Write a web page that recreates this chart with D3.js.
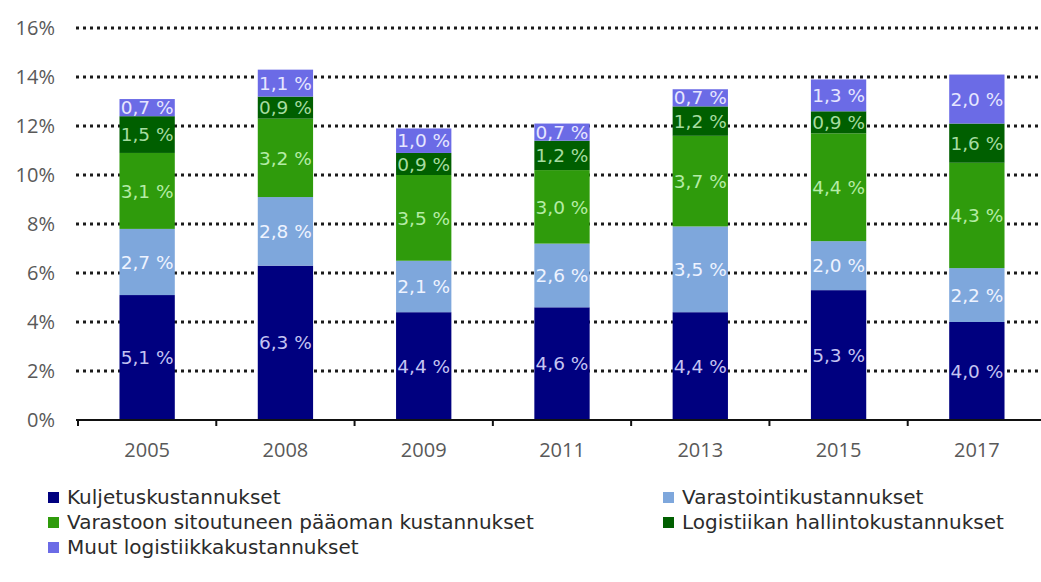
<!DOCTYPE html>
<html>
<head>
<meta charset="utf-8">
<script src="https://cdn.jsdelivr.net/npm/d3@7"></script>
<style>
  html, body { margin: 0; padding: 0; background: #fff; }
  svg { display: block; }
</style>
</head>
<body>
<svg id="chart" width="1041" height="582"></svg>
<script>
// Logistics cost components as a share of revenue, by survey year
const years = ["2005", "2008", "2009", "2011", "2013", "2015", "2017"];
const seriesNames = [
  "Kuljetuskustannukset",
  "Varastointikustannukset",
  "Varastoon sitoutuneen pääoman kustannukset",
  "Logistiikan hallintokustannukset",
  "Muut logistiikkakustannukset"
];
const kuljetus   = [5.1, 6.3, 4.4, 4.6, 4.4, 5.3, 4.0];
const varastointi = [2.7, 2.8, 2.1, 2.6, 3.5, 2.0, 2.2];
const paaoma     = [3.1, 3.2, 3.5, 3.0, 3.7, 4.4, 4.3];
const hallinto   = [1.5, 0.9, 0.9, 1.2, 1.2, 0.9, 1.6];
const muut       = [0.7, 1.1, 1.0, 0.7, 0.7, 1.3, 2.0];
const yTicks = [0, 2, 4, 6, 8, 10, 12, 14, 16];

const fills = ["#00007f", "#7ea7dc", "#2f9b0c", "#005f00", "#6b6be6"];
const labelFills = ["#c4c4f2", "#eef3ff", "#b5eca6", "#a6dca0", "#e6e6ff"];

const seriesValues = [kuljetus, varastointi, paaoma, hallinto, muut];
const keys = seriesNames;
const rows = years.map((y, i) => {
  const r = { year: y };
  keys.forEach((k, j) => { r[k] = seriesValues[j][i]; });
  return r;
});
const stacked = d3.stack().keys(keys)(rows);

const svg = d3.select("#chart");
const x = d3.scaleBand().domain(years).range([78, 1046]).paddingInner(0.6).paddingOuter(0.3);
const y = d3.scaleLinear().domain([0, 16]).range([420, 28]);

const uiFont = "'Open Sans', Lato, sans-serif";

// dotted horizontal gridlines
svg.append("g")
  .selectAll("line")
  .data(yTicks.filter(t => t > 0))
  .join("line")
  .attr("x1", 76).attr("x2", 1041)
  .attr("y1", d => y(d)).attr("y2", d => y(d))
  .attr("stroke", "#1a1a1a")
  .attr("stroke-width", 3)
  .attr("stroke-dasharray", "3 4");

// y tick labels
svg.append("g")
  .selectAll("text")
  .data(yTicks)
  .join("text")
  .attr("x", 55)
  .attr("y", d => y(d))
  .attr("dy", "0.35em")
  .attr("text-anchor", "end")
  .attr("font-family", uiFont)
  .attr("font-size", 20)
  .attr("fill", "#595959")
  .text(d => d + "%");

// stacked bars
const layers = svg.append("g")
  .selectAll("g")
  .data(stacked)
  .join("g")
  .attr("fill", (d, i) => fills[i]);

layers.selectAll("rect")
  .data(d => d)
  .join("rect")
  .attr("x", d => x(d.data.year))
  .attr("width", x.bandwidth())
  .attr("y", d => y(d[1]))
  .attr("height", d => y(d[0]) - y(d[1]));

// segment value labels
const fmt = v => v.toFixed(1).replace(".", ",") + " %";
svg.append("g")
  .selectAll("g")
  .data(stacked)
  .join("g")
  .attr("fill", (d, i) => labelFills[i])
  .selectAll("text")
  .data(d => d.map(p => ({ p, key: d.key })))
  .join("text")
  .attr("x", d => x(d.p.data.year) + x.bandwidth() / 2)
  .attr("y", d => (y(d.p[0]) + y(d.p[1])) / 2)
  .attr("dy", "0.36em")
  .attr("text-anchor", "middle")
  .attr("font-family", "'DejaVu Sans', sans-serif")
  .attr("font-size", 18.5)
  .text(d => fmt(d.p.data[d.key]));

// x axis
const axis = svg.append("g");
axis.append("line")
  .attr("x1", 76).attr("x2", 1041)
  .attr("y1", y(0)).attr("y2", y(0))
  .attr("stroke", "#111").attr("stroke-width", 2);
const step = x.step();
const boundaries = d3.range(years.length + 1).map(i => x.range()[0] + i * step);
axis.selectAll("line.tick")
  .data(boundaries)
  .join("line")
  .attr("class", "tick")
  .attr("x1", d => d).attr("x2", d => d)
  .attr("y1", y(0)).attr("y2", y(0) + 6)
  .attr("stroke", "#111").attr("stroke-width", 2);
axis.selectAll("text")
  .data(years)
  .join("text")
  .attr("x", d => x(d) + x.bandwidth() / 2)
  .attr("y", 450)
  .attr("dy", "0.35em")
  .attr("text-anchor", "middle")
  .attr("font-family", uiFont)
  .attr("font-size", 20)
  .attr("fill", "#595959")
  .text(d => d);

// legend
const legendPos = [
  { x: 48, y: 497 }, { x: 663, y: 497 },
  { x: 48, y: 522 }, { x: 663, y: 522 },
  { x: 48, y: 547 }
];
const legend = svg.append("g")
  .selectAll("g")
  .data(seriesNames)
  .join("g")
  .attr("transform", (d, i) => `translate(${legendPos[i].x},${legendPos[i].y})`);
legend.append("rect")
  .attr("x", 0).attr("y", -5)
  .attr("width", 11).attr("height", 11)
  .attr("fill", (d, i) => fills[i]);
legend.append("text")
  .attr("x", 19)
  .attr("y", 0)
  .attr("dy", "0.35em")
  .attr("font-family", "'DejaVu Sans', sans-serif")
  .attr("font-size", 20)
  .attr("fill", "#2b2b2b")
  .text(d => d);
</script>
</body>
</html>
